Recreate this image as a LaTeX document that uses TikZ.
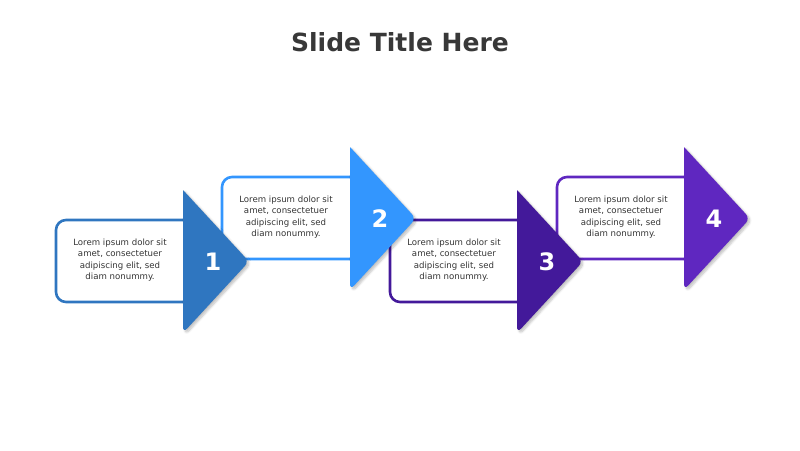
\documentclass[tikz,border=0pt]{standalone}
\usepackage{fontspec}
\setmainfont{DejaVu Sans}
\usepackage{tikz}
\usetikzlibrary{calc,shadows.blur}
\definecolor{stepA}{HTML}{2F76C0}
\definecolor{stepB}{HTML}{3396FE}
\definecolor{stepC}{HTML}{43199A}
\definecolor{stepD}{HTML}{5F27C0}
\definecolor{titlegray}{HTML}{383838}
\tikzset{
  stepframe/.style={line width=2.6pt, rounded corners=10pt},
  steparrow/.style={rounded corners=6pt, blur shadow={shadow xshift=2pt, shadow yshift=-2pt, shadow blur steps=6, shadow opacity=25}},
  steptext/.style={align=center, font=\fontsize{8.6}{11.4}\selectfont, text=black!80},
  stepnum/.style={font=\fontsize{24}{24}\selectfont\bfseries, text=white}
}
\newcommand{\lorem}{Lorem ipsum dolor sit\\amet, consectetuer\\adipiscing elit, sed\\diam nonummy.}
\begin{document}
\begin{tikzpicture}[x=1pt,y=-1pt]
\useasboundingbox (0,0) rectangle (800,450);
\node[font=\fontsize{25}{25}\selectfont\bfseries, text=titlegray] (title) at (400,42) {Slide Title Here};
% boxes
\foreach \n/\x/\y/\c in {1/56/220/stepA,2/222/177/stepB,3/390/220/stepC,4/557/177/stepD} {
  \draw[stepframe, draw=\c] (\x+150,\y) -- (\x,\y) -- (\x,\y+82) -- (\x+150,\y+82);
  \node[steptext] (text\n) at (\x+64,\y+40) {\lorem};
}
% arrows
\foreach \n/\x/\y/\c in {1/183/190/stepA,2/350/147/stepB,3/517/190/stepC,4/684/147/stepD} {
  \fill[steparrow, fill=\c] (\x,\y) -- (\x+66,\y+71.5) -- (\x,\y+143) [sharp corners] -- cycle;
  \node[stepnum] (num\n) at (\x+30,\y+72) {\n};
}
\end{tikzpicture}
\end{document}
